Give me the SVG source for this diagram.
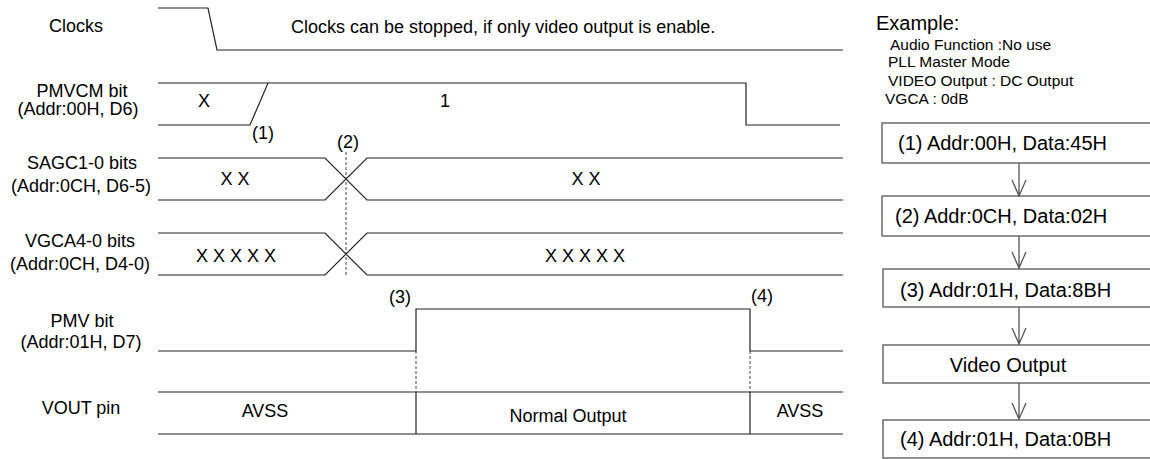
<svg xmlns="http://www.w3.org/2000/svg" width="1150" height="459" viewBox="0 0 1150 459">
<style>
text{font-family:"Liberation Sans",Arial,sans-serif;fill:#000}
.l{font-size:18px}
.c{text-anchor:middle}
.b{font-size:20px}
.s{font-size:15.5px}
.w{fill:none;stroke:#222;stroke-width:1.2}
.d{fill:none;stroke:#444;stroke-width:1;stroke-dasharray:3,2}
.box{fill:#fff;stroke:#555;stroke-width:1.3}
.ar{fill:none;stroke:#555;stroke-width:1.3}
</style>
<rect width="1150" height="459" fill="#fff"/>

<g id="clocks">
<text class="l c" x="76" y="32">Clocks</text>
<path class="w" d="M158,8 H208 L217,50 H843"/>
<text class="l" x="291" y="33">Clocks can be stopped, if only video output is enable.</text>
</g>

<g id="pmvcm">
<text class="l c" x="82" y="97">PMVCM bit</text>
<text class="l c" x="78" y="115">(Addr:00H, D6)</text>
<path class="w" d="M158,83 H268 M158,125 H250 L268,83 H746 V125 H840"/>
<text class="l c" x="204" y="107">X</text>
<text class="l c" x="445" y="107">1</text>
<text class="l c" x="263" y="139">(1)</text>
</g>

<g id="sagc">
<text class="l c" x="82" y="169">SAGC1-0 bits</text>
<text class="l c" x="81" y="192">(Addr:0CH, D6-5)</text>
<path class="w" d="M158,158 H325 L367,200 H843 M158,200 H325 L367,158 H843"/>
<text class="l c" x="235" y="185">X X</text>
<text class="l c" x="586" y="185">X X</text>
<text class="l c" x="348" y="148">(2)</text>
</g>

<g id="vgca">
<text class="l c" x="80" y="247">VGCA4-0 bits</text>
<text class="l c" x="80" y="270">(Addr:0CH, D4-0)</text>
<path class="w" d="M158,233 H325 L367,275 H843 M158,275 H325 L367,233 H843"/>
<text class="l c" x="236" y="262">X X X X X</text>
<text class="l c" x="585" y="262">X X X X X</text>
</g>

<g id="pmv">
<text class="l c" x="82" y="327">PMV bit</text>
<text class="l c" x="81" y="348">(Addr:01H, D7)</text>
<path class="w" d="M158,351 H416 V309 H750 V351 H843"/>
<text class="l c" x="400" y="303">(3)</text>
<text class="l c" x="762" y="302">(4)</text>
</g>

<g id="vout">
<text class="l c" x="81" y="414">VOUT pin</text>
<path class="w" d="M158,392 H843 M158,434 H843 M416,392 V434 M750,392 V434"/>
<text class="l c" x="265" y="417">AVSS</text>
<text class="l c" x="568" y="422">Normal Output</text>
<text class="l c" x="800" y="417">AVSS</text>
</g>

<g id="guides">
<path class="d" d="M346,152 V276 M416,351 V392 M750,351 V392"/>
</g>

<g id="example">
<text class="b" x="876" y="30">Example:</text>
<text class="s" x="890" y="50">Audio Function :No use</text>
<text class="s" x="888" y="67">PLL Master Mode</text>
<text class="s" x="888" y="86">VIDEO Output : DC Output</text>
<text class="s" x="885" y="104">VGCA : 0dB</text>
</g>

<g id="step1">
<rect class="box" x="882" y="123" width="275" height="40"/>
<text class="b" x="898" y="150">(1) Addr:00H, Data:45H</text>
</g>
<g id="step2">
<rect class="box" x="882" y="196" width="275" height="40"/>
<text class="b" x="895" y="223">(2) Addr:0CH, Data:02H</text>
</g>
<g id="step3">
<rect class="box" x="883" y="269" width="275" height="38"/>
<text class="b" x="900" y="297">(3) Addr:01H, Data:8BH</text>
</g>
<g id="step4">
<rect class="box" x="883" y="345" width="275" height="38"/>
<text class="b c" x="1008" y="372">Video Output</text>
</g>
<g id="step5">
<rect class="box" x="883" y="420" width="275" height="38"/>
<text class="b" x="900" y="446">(4) Addr:01H, Data:0BH</text>
</g>

<g id="connectors">
<path class="ar" d="M1019,163 V196 M1012,180 L1019,196 L1026,180"/>
<path class="ar" d="M1019,236 V269 M1012,252 L1019,268 L1026,252"/>
<path class="ar" d="M1019,307 V345 M1012,328 L1019,344 L1026,328"/>
<path class="ar" d="M1019,383 V420 M1012,403 L1019,419 L1026,403"/>
</g>
</svg>
